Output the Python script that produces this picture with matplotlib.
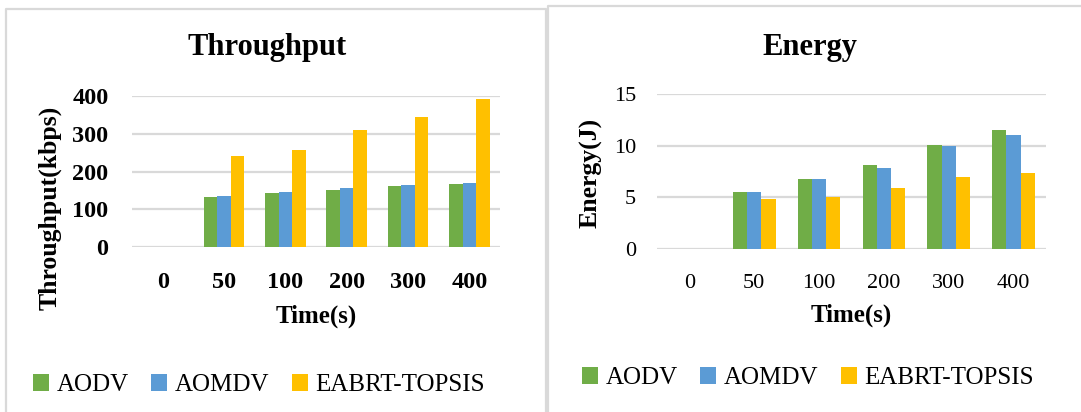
import matplotlib
matplotlib.use('Agg')
import matplotlib.pyplot as plt
import numpy as np
from matplotlib.lines import Line2D

plt.rcParams['font.family'] = ['Liberation Serif', 'DejaVu Serif']

# datos
categories = ['0', '50', '100', '200', '300', '400']
series_names = ['AODV', 'AOMDV', 'EABRT-TOPSIS']
colors = ['#70AD47', '#5B9BD5', '#FFC000']

thr_aodv = [0, 133, 142, 152, 161, 167]
thr_aomdv = [0, 136, 145, 157, 163, 170]
thr_eabrt = [0, 240, 258, 309, 345, 391]

en_aodv = [0, 5.5, 6.75, 8.1, 10.1, 11.55]
en_aomdv = [0, 5.5, 6.75, 7.85, 10.0, 11.0]
en_eabrt = [0, 4.87, 5.0, 5.95, 6.95, 7.4]

W, H = 1081, 412
fig = plt.figure(figsize=(W / 100, H / 100), dpi=100)


def fx(px):
    return px / W


def fy(py):
    return 1 - py / H


# bordes de los paneles
border = '#D9D9D9'
fig.add_artist(Line2D([fx(6), fx(6), fx(546), fx(546)], [0, fy(9), fy(9), 0],
                      color=border, lw=1.6, transform=fig.transFigure))
fig.add_artist(Line2D([fx(548), fx(548), 1], [0, fy(6), fy(6)],
                      color=border, lw=1.6, transform=fig.transFigure))


def draw_panel(rect, data, ylim, yticks, title, ylabel, bold_ticks,
               title_xy, ylabel_xy, xlabel_y, legend_xy):
    ax = fig.add_axes(rect)
    x = np.arange(len(categories))
    bw = 0.22
    for i, vals in enumerate(data):
        ax.bar(x + (i - 1) * bw, vals, bw, color=colors[i], label=series_names[i],
               zorder=3)
    ax.set_xlim(-0.5, len(categories) - 0.5)
    ax.set_ylim(*ylim)
    ax.set_yticks(yticks)
    ax.set_xticks(x)
    ax.set_xticklabels(categories)
    ax.grid(axis='y', color='#D9D9D9', lw=1.6, zorder=0)
    for s in ax.spines.values():
        s.set_visible(False)
    ax.tick_params(length=0)
    weight = 'bold' if bold_ticks else 'normal'
    ax.tick_params(axis='y', pad=17 if bold_ticks else 15)
    ax.tick_params(axis='x', pad=18)
    for lab in ax.get_xticklabels() + ax.get_yticklabels():
        lab.set_fontsize(17.5 if bold_ticks else 16)
        lab.set_fontweight(weight)

    fig.text(fx(title_xy[0]), fy(title_xy[1]), title, fontsize=22,
             fontweight='bold', ha='center', va='center')
    ax.set_ylabel(ylabel, fontsize=18.5, fontweight='bold')
    ax.yaxis.set_label_coords(*ylabel_xy)
    ax.set_xlabel('Time(s)', fontsize=18, fontweight='bold')
    ax.xaxis.set_label_coords(0.5, xlabel_y)

    ax.legend(loc='center', bbox_to_anchor=(fx(legend_xy[0]), fy(legend_xy[1])),
              bbox_transform=fig.transFigure, ncol=3, frameon=False,
              prop={'size': 18}, handlelength=0.65, handleheight=0.65,
              handletextpad=0.3, columnspacing=0.9, borderpad=0)
    return ax


draw_panel([fx(132), fy(247), fx(500) - fx(132), fy(96) - fy(247)],
           [thr_aodv, thr_aomdv, thr_eabrt], (0, 400), [0, 100, 200, 300, 400],
           'Throughput', 'Throughput(kbps)', True,
           (267, 48), (-0.19, 0.262), -0.38, (259, 385))

draw_panel([fx(657), fy(249), fx(1046) - fx(657), fy(94) - fy(249)],
           [en_aodv, en_aomdv, en_eabrt], (0, 15), [0, 5, 10, 15],
           'Energy', 'Energy(J)', False,
           (810, 47), (-0.139, 0.49), -0.35, (808, 378))

plt.savefig('out.png', dpi=100)
